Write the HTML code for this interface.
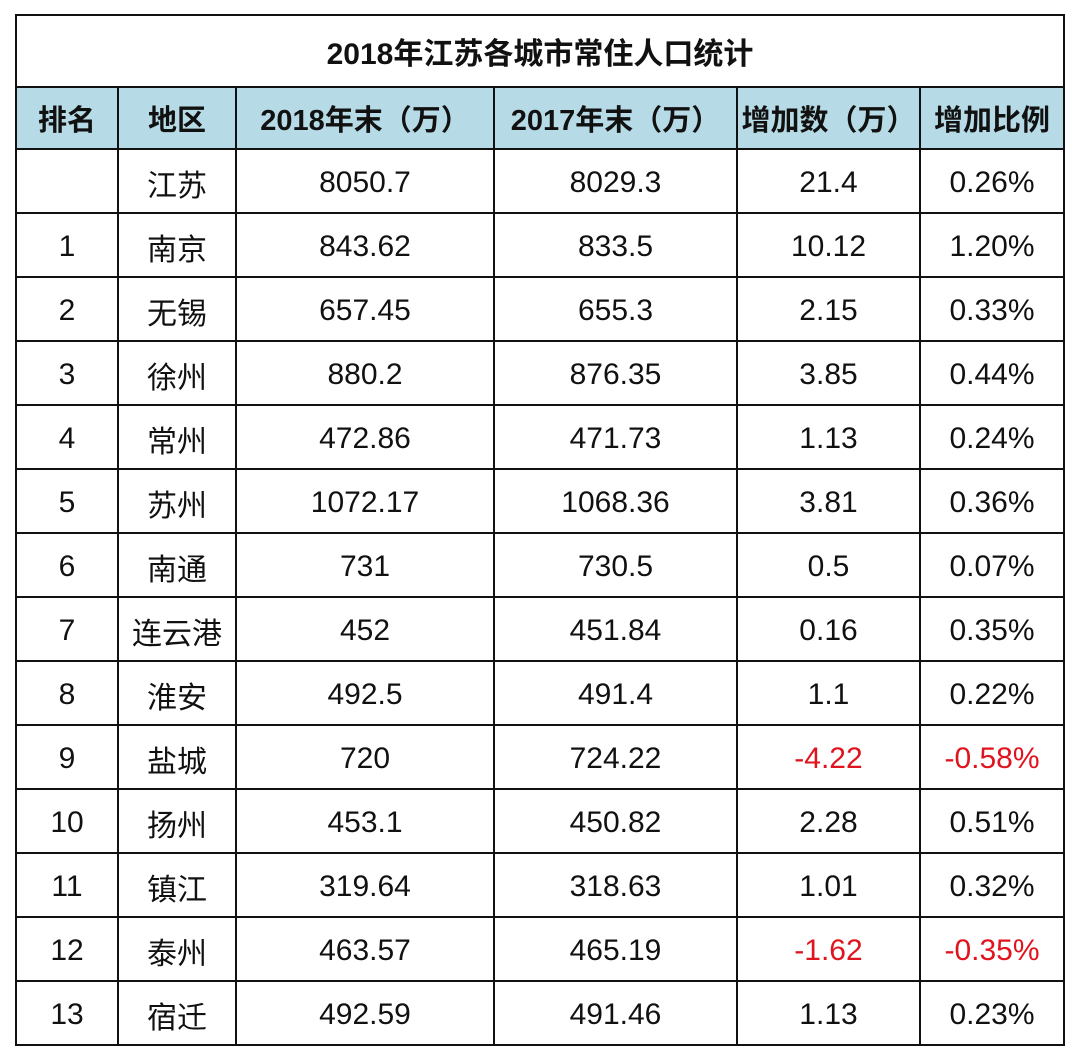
<!DOCTYPE html>
<html><head><meta charset="utf-8"><style>
body{margin:0;background:#fff;width:1080px;height:1061px;overflow:hidden;font-family:"Liberation Sans","Noto Sans CJK SC",sans-serif;}
table{position:absolute;left:15px;top:14px;border-collapse:collapse;table-layout:fixed;}
td{border:2px solid #111;text-align:center;padding:4px 0 0 0;font-size:30px;color:#111;height:58px;box-sizing:content-box;}
.t td{height:70px;padding:0;font-weight:bold;font-size:30px;}
.h td{background:#b6dbe6;font-weight:bold;font-size:29px;height:60px;padding:0;}
.r{color:#e0141e;}
</style></head><body>
<table>
<colgroup><col style="width:102px"><col style="width:118px"><col style="width:258px"><col style="width:243px"><col style="width:183px"><col style="width:144px"></colgroup>
<tr class="t"><td colspan="6">2018年江苏各城市常住人口统计</td></tr>
<tr class="h"><td>排名</td><td>地区</td><td>2018年末（万）</td><td>2017年末（万）</td><td>增加数（万）</td><td>增加比例</td></tr>
<tr><td></td><td>江苏</td><td>8050.7</td><td>8029.3</td><td>21.4</td><td>0.26%</td></tr>
<tr><td>1</td><td>南京</td><td>843.62</td><td>833.5</td><td>10.12</td><td>1.20%</td></tr>
<tr><td>2</td><td>无锡</td><td>657.45</td><td>655.3</td><td>2.15</td><td>0.33%</td></tr>
<tr><td>3</td><td>徐州</td><td>880.2</td><td>876.35</td><td>3.85</td><td>0.44%</td></tr>
<tr><td>4</td><td>常州</td><td>472.86</td><td>471.73</td><td>1.13</td><td>0.24%</td></tr>
<tr><td>5</td><td>苏州</td><td>1072.17</td><td>1068.36</td><td>3.81</td><td>0.36%</td></tr>
<tr><td>6</td><td>南通</td><td>731</td><td>730.5</td><td>0.5</td><td>0.07%</td></tr>
<tr><td>7</td><td>连云港</td><td>452</td><td>451.84</td><td>0.16</td><td>0.35%</td></tr>
<tr><td>8</td><td>淮安</td><td>492.5</td><td>491.4</td><td>1.1</td><td>0.22%</td></tr>
<tr><td>9</td><td>盐城</td><td>720</td><td>724.22</td><td class="r">-4.22</td><td class="r">-0.58%</td></tr>
<tr><td>10</td><td>扬州</td><td>453.1</td><td>450.82</td><td>2.28</td><td>0.51%</td></tr>
<tr><td>11</td><td>镇江</td><td>319.64</td><td>318.63</td><td>1.01</td><td>0.32%</td></tr>
<tr><td>12</td><td>泰州</td><td>463.57</td><td>465.19</td><td class="r">-1.62</td><td class="r">-0.35%</td></tr>
<tr><td>13</td><td>宿迁</td><td>492.59</td><td>491.46</td><td>1.13</td><td>0.23%</td></tr>
</table>
</body></html>
